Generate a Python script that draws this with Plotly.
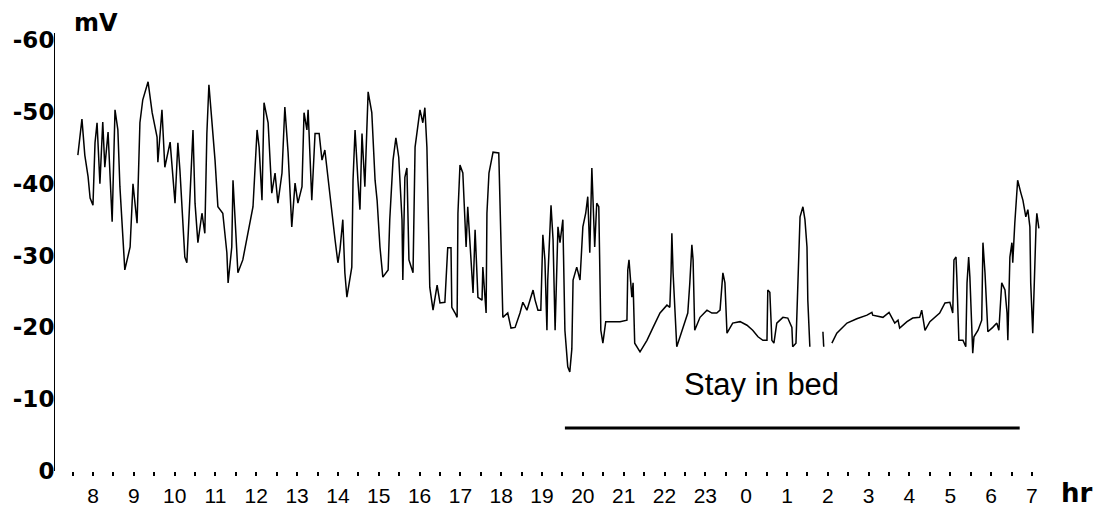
import plotly.graph_objects as go

# Time in hours (values > 24 are after midnight), potential in mV
time_hr = [7.63, 7.68, 7.73, 7.80, 7.88, 7.93, 8.00, 8.05, 8.10, 8.17, 8.24, 8.29, 8.37, 8.47, 8.54, 8.61, 8.66,
           8.78, 8.91, 8.98, 9.08, 9.15, 9.22, 9.35, 9.45, 9.57, 9.59, 9.69, 9.76, 9.89, 10.01, 10.08, 10.13,
           10.25, 10.30, 10.38, 10.45, 10.50, 10.57, 10.67, 10.74, 10.79, 10.84, 10.91, 10.99, 11.06, 11.18,
           11.28, 11.31, 11.40, 11.43, 11.50, 11.55, 11.67, 11.85, 11.92, 12.02, 12.07, 12.14, 12.19, 12.29,
           12.38, 12.46, 12.53, 12.63, 12.70, 12.78, 12.87, 12.95, 13.02, 13.12, 13.17, 13.24, 13.27, 13.36,
           13.44, 13.54, 13.61, 13.68, 13.76, 13.85, 13.93, 14.00, 14.05, 14.12, 14.17, 14.22, 14.34, 14.37,
           14.42, 14.49, 14.54, 14.59, 14.66, 14.74, 14.83, 14.91, 14.96, 15.03, 15.10, 15.23, 15.27, 15.35,
           15.42, 15.49, 15.57, 15.59, 15.64, 15.69, 15.74, 15.84, 15.89, 16.01, 16.08, 16.13, 16.18, 16.25,
           16.33, 16.43, 16.50, 16.62, 16.69, 16.77, 16.79, 16.87, 16.92, 16.94, 16.99, 17.06, 17.14, 17.18,
           17.28, 17.31, 17.36, 17.43, 17.53, 17.55, 17.63, 17.65, 17.70, 17.80, 17.94, 18.02, 18.04, 18.16,
           18.24, 18.34, 18.46, 18.53, 18.63, 18.78, 18.83, 18.90, 18.97, 19.02, 19.07, 19.12, 19.14, 19.22,
           19.27, 19.32, 19.39, 19.44, 19.51, 19.56, 19.63, 19.68, 19.73, 19.76, 19.85, 19.93, 20.00, 20.07,
           20.12, 20.17, 20.22, 20.25, 20.29, 20.34, 20.39, 20.44, 20.49, 20.56, 20.66, 20.91, 21.08, 21.10,
           21.13, 21.20, 21.23, 21.27, 21.40, 21.57, 21.72, 21.89, 22.06, 22.13, 22.16, 22.18, 22.21, 22.25,
           22.30, 22.38, 22.50, 22.57, 22.62, 22.67, 22.70, 22.74, 22.87, 23.04, 23.16, 23.28, 23.36, 23.43,
           23.48, 23.53, 23.67, 23.85, 24.02, 24.16, 24.29, 24.41, 24.51, 24.53, 24.58, 24.63, 24.68, 24.75,
           24.90, 25.02, 25.12, 25.14, 25.22, 25.27, 25.32, 25.39, 25.44, 25.49, 25.51, 25.56, 25.70,
           25.88, 25.90, 26.00,
           26.10, 26.22, 26.47, 26.71, 26.96, 27.08, 27.10, 27.35, 27.50, 27.57, 27.64, 27.72, 27.76, 27.94,
           28.08, 28.25, 28.30, 28.38, 28.50, 28.74, 28.87, 28.99, 29.06, 29.09, 29.14, 29.16, 29.21, 29.31,
           29.38, 29.41, 29.45, 29.48, 29.53, 29.55, 29.58, 29.68, 29.77, 29.80, 29.85, 29.90, 29.92, 30.04,
           30.14, 30.19, 30.26, 30.34, 30.39, 30.41, 30.46, 30.51, 30.53, 30.58, 30.63, 30.65, 30.73, 30.78,
           30.85, 30.90, 30.95, 30.97, 31.02, 31.05, 31.10, 31.12, 31.17]

mv = [-44.0, -46.5, -49.0, -44.0, -41.0, -38.0, -37.0, -45.7, -48.5, -40.0, -48.6, -42.3, -47.2, -34.7, -50.3, -47.5, -39.6,
      -28.0, -31.2, -40.0, -34.5, -48.5, -51.7, -54.2, -49.9, -46.5, -43.0, -50.3, -42.3, -45.8, -37.3, -45.7, -41.9,
      -29.8, -29.0, -38.7, -47.5, -37.3, -31.8, -35.9, -33.1, -47.0, -53.8, -48.9, -43.3, -36.8, -35.9,
      -30.4, -26.2, -31.2, -40.5, -33.1, -27.6, -29.4, -35.0, -36.8, -47.5, -45.1, -37.7, -51.3, -48.5,
      -38.7, -41.5, -37.3, -41.5, -50.7, -44.3, -34.0, -40.1, -37.3, -39.6, -49.9, -47.5, -50.3, -37.7,
      -47.0, -47.0, -43.3, -44.7, -40.5, -35.9, -32.2, -29.0, -30.8, -35.0, -27.6, -24.2, -28.4, -40.5,
      -47.5, -40.5, -36.4, -47.0, -39.6, -52.8, -49.9, -40.5, -37.7, -31.2, -27.0, -28.0, -35.0, -43.3,
      -46.4, -43.7, -35.0, -26.6, -40.9, -42.2, -29.4, -27.6, -45.1, -50.3, -48.5, -50.6, -45.1, -25.6,
      -22.4, -25.9, -23.4, -23.5, -31.1, -31.1, -22.8, -22.0, -21.4, -35.9, -42.6, -41.5, -31.2, -36.8,
      -28.0, -24.8, -33.6, -24.2, -23.8, -28.4, -22.0, -35.9, -41.5, -44.4, -44.3, -26.6, -21.4, -22.0,
      -19.9, -20.0, -22.0, -23.5, -22.4, -25.2, -23.8, -22.4, -22.4, -32.9, -29.4, -19.6, -26.6, -37.0,
      -32.2, -19.6, -34.0, -31.8, -35.0, -19.6, -14.5, -13.8, -17.0, -26.6, -28.4, -26.6, -34.0, -35.9,
      -38.2, -30.4, -42.2, -37.5, -31.2, -37.3, -36.8, -19.6, -17.8, -20.8, -20.8, -20.8, -21.0, -28.0,
      -29.4, -24.2, -26.2, -17.8, -16.6, -18.2, -20.0, -22.0, -23.1, -22.8, -27.6, -33.1, -27.6, -22.4,
      -17.3, -18.7, -20.6, -22.0, -26.2, -31.5, -29.4, -19.6, -21.4, -22.4, -22.0, -22.0, -22.4, -27.6,
      -26.2, -19.2, -20.6, -20.8, -20.3, -19.6, -18.7, -18.2, -18.2, -25.2, -24.9, -18.2, -17.8, -20.6,
      -21.4, -21.3, -20.0, -17.3, -17.8, -27.0, -35.4, -36.8, -35.0, -31.2, -23.8, -17.3, None,
      -19.4, -17.3, None,
      -17.8, -19.2, -20.6, -21.2, -21.7, -22.1, -21.7, -21.4, -22.1, -21.3, -20.6, -21.0, -19.9, -20.8,
      -21.3, -21.4, -22.4, -19.6, -20.8, -22.0, -23.4, -23.5, -22.0, -29.4, -29.8, -27.0, -18.2, -18.2,
      -17.3, -26.2, -29.8, -27.0, -16.9, -16.4, -18.7, -19.6, -21.0, -31.8, -27.6, -20.6, -19.4, -20.0,
      -20.6, -19.6, -26.2, -25.2, -22.0, -18.2, -29.8, -31.8, -29.0, -34.5, -38.7, -40.5, -38.7, -37.7,
      -35.4, -36.4, -34.0, -26.2, -19.2, -26.2, -34.0, -35.9, -33.8]

hour_ticks = list(range(8, 32))
hour_labels = [str(h % 24) for h in hour_ticks]
half_hour_ticks = [h + 0.5 for h in range(7, 31)]
mv_ticks = [0, -10, -20, -30, -40, -50, -60]
mv_labels = ["0", "-10", "-20", "-30", "-40", "-50", "-60"]

bed_start, bed_end, bed_level = 19.56, 30.70, -6.0
bed_label = "Stay in bed"

fig = go.Figure()
fig.add_trace(go.Scatter(x=time_hr, y=mv, mode="lines",
                         line=dict(color="black", width=1.5),
                         connectgaps=False, showlegend=False, hoverinfo="skip"))
fig.add_trace(go.Scatter(x=[bed_start, bed_end], y=[bed_level, bed_level], mode="lines",
                         line=dict(color="black", width=3), showlegend=False, hoverinfo="skip"))

fig.update_layout(
    width=1101, height=508,
    margin=dict(l=55, r=56, t=33, b=37, autoexpand=False),
    paper_bgcolor="white", plot_bgcolor="white",
    xaxis=dict(range=[7.07, 31.32], tickmode="array", tickvals=hour_ticks, ticktext=hour_labels,
               ticks="outside", ticklen=4, tickwidth=1.5, tickcolor="black",
               minor=dict(tickmode="array", tickvals=half_hour_ticks, ticks="outside",
                          ticklen=4, tickwidth=1.5, tickcolor="black", showgrid=False),
               showline=False, showgrid=False, zeroline=False, ticklabelstandoff=2,
               automargin=False,
               tickfont=dict(family="Liberation Sans, Arial", size=21, color="black")),
    yaxis=dict(range=[0, -61], tickmode="array", tickvals=mv_ticks, ticktext=mv_labels,
               ticks="", showline=True, linecolor="black", linewidth=1,
               showgrid=False, zeroline=False, ticklabelstandoff=-5, automargin=False,
               tickfont=dict(family="DejaVu Sans", size=23, color="black", weight="bold")),
    annotations=[
        dict(x=0.0414, y=1.0228, xref="paper", yref="paper", text="mV", showarrow=False,
             xanchor="center", yanchor="middle",
             font=dict(family="DejaVu Sans", size=24, color="black", weight="bold")),
        dict(x=1.0323, y=-0.0502, xref="paper", yref="paper", text="hr", showarrow=False,
             xanchor="center", yanchor="middle",
             font=dict(family="DejaVu Sans", size=26, color="black", weight="bold")),
        dict(x=24.38, y=-12.0, xref="x", yref="y", text=bed_label, showarrow=False,
             xanchor="center", yanchor="middle",
             font=dict(family="Liberation Sans, Arial", size=31, color="black")),
    ],
)

fig.write_html("out.html")
